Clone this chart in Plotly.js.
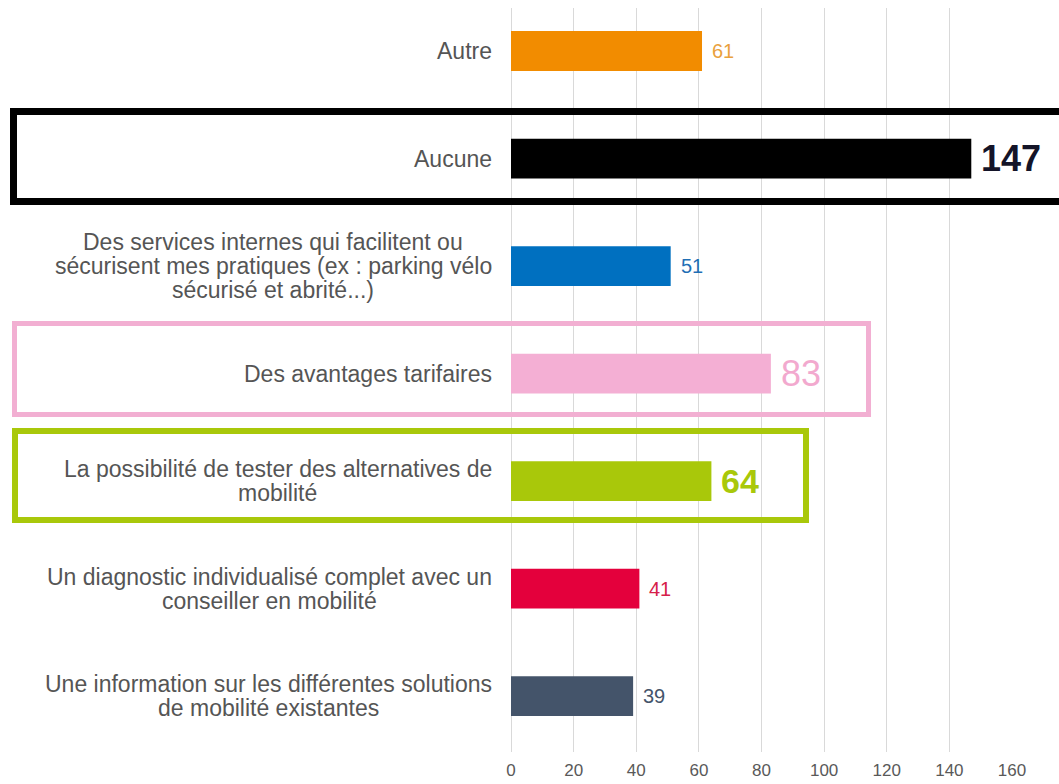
<!DOCTYPE html>
<html><head><meta charset="utf-8">
<script src="https://cdn.plot.ly/plotly-3.0.1.min.js"></script>
<style>html,body{margin:0;padding:0;background:#fff}#chart{width:1059px;height:784px}</style>
</head><body><div id="chart"></div>
<script>
const categories = [
  "Autre",
  "Aucune",
  "Des services internes qui facilitent ou<br>sécurisent mes pratiques (ex : parking vélo<br>sécurisé et abrité...)",
  "Des avantages tarifaires",
  "La possibilité de tester des alternatives de<br>mobilité",
  "Un diagnostic individualisé complet avec un<br>conseiller en mobilité",
  "Une information sur les différentes solutions<br>de mobilité existantes"
];
const values = [61, 147, 51, 83, 64, 41, 39];
const xTicks = [0, 20, 40, 60, 80, 100, 120, 140, 160];
const xTickLabels = ["0", "20", "40", "60", "80", "100", "120", "140", "160"];

const barColors = ["#F28C00", "#000000", "#0070C0", "#F4AFD4", "#A9C80A", "#E4003C", "#44546A"];
const valueColors = ["#E9A13C", "#141428", "#1F6FB5", "#F2A9CE", "#A9C80A", "#D6204A", "#44546A"];
const valueSizes = [20, 36, 20, 36, 34, 20, 20];
const valueWeights = ["normal", "bold", "normal", "normal", "bold", "normal", "normal"];

const labelFont = '"Liberation Sans", Arial, sans-serif';
const narrowFont = '"Liberation Sans Narrow", "Liberation Sans", Arial, sans-serif';
const labelSize = 23;
const lineH = 24;
const labelGap = 19;

const ctx = document.createElement('canvas').getContext('2d');
ctx.font = labelSize + 'px "Liberation Sans"';

const annotations = [];
categories.forEach((cat, i) => {
  const lines = cat.split('<br>');
  const maxW = Math.max(...lines.map(l => ctx.measureText(l).width));
  lines.forEach((ln, j) => {
    annotations.push({
      x: 0, xref: 'paper', y: cat, yref: 'y',
      text: ln, showarrow: false,
      xanchor: 'center', yanchor: 'middle',
      xshift: -(labelGap + maxW / 2),
      yshift: -(j - (lines.length - 1) / 2) * lineH,
      font: {family: labelFont, size: labelSize, color: '#555555'}
    });
  });
});
values.forEach((v, i) => {
  annotations.push({
    x: v, xref: 'x', y: categories[i], yref: 'y',
    text: String(v), showarrow: false,
    xanchor: 'left', yanchor: 'middle', xshift: 8,
    font: {family: narrowFont, size: valueSizes[i], color: valueColors[i], weight: valueWeights[i]}
  });
});

const trace = {
  type: 'bar', orientation: 'h',
  y: categories, x: values,
  marker: {color: barColors},
  width: 0.37,
  hoverinfo: 'none'
};

const layout = {
  width: 1059, height: 784,
  margin: {l: 511, r: 47, t: 8, b: 32},
  paper_bgcolor: '#ffffff', plot_bgcolor: '#ffffff',
  showlegend: false,
  xaxis: {
    range: [0, 160], tickvals: xTicks, ticktext: xTickLabels,
    showgrid: true, gridcolor: '#d9d9d9', gridwidth: 1,
    zeroline: true, zerolinecolor: '#d9d9d9', zerolinewidth: 1,
    showline: false, ticks: '',
    tickfont: {family: narrowFont, size: 17, color: '#595959'},
    ticklabelstandoff: 6, fixedrange: true
  },
  yaxis: {
    type: 'category', categoryorder: 'array', categoryarray: categories,
    range: [6.52, -0.40], showticklabels: false, showgrid: false,
    zeroline: false, showline: false, ticks: '', fixedrange: true
  },
  annotations: annotations,
  shapes: [
    {type: 'rect', xref: 'paper', yref: 'paper', x0: -0.993, x1: 1.2, y0: 0.740, y1: 0.861,
     line: {color: '#000000', width: 7}, fillcolor: 'rgba(0,0,0,0)', layer: 'above'},
    {type: 'rect', xref: 'paper', yref: 'paper', x0: -0.991, x1: 0.7136, y0: 0.4536, y1: 0.5759,
     line: {color: '#F2AFD2', width: 5}, fillcolor: 'rgba(0,0,0,0)', layer: 'above'},
    {type: 'rect', xref: 'paper', yref: 'paper', x0: -0.990, x1: 0.5888, y0: 0.3118, y1: 0.4315,
     line: {color: '#A9C80A', width: 6}, fillcolor: 'rgba(0,0,0,0)', layer: 'above'}
  ]
};

Plotly.newPlot('chart', [trace], layout, {staticPlot: true, displayModeBar: false});
</script>
</body></html>
